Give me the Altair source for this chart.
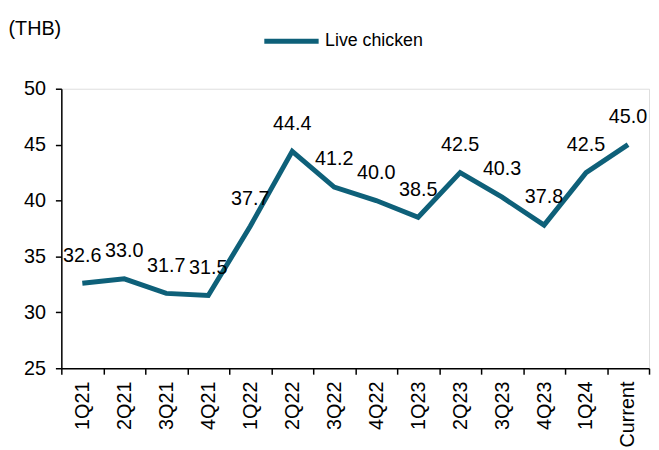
import altair as alt
import pandas as pd

categories = ["1Q21", "2Q21", "3Q21", "4Q21", "1Q22", "2Q22", "3Q22", "4Q22",
              "1Q23", "2Q23", "3Q23", "4Q23", "1Q24", "Current"]
values = [32.6, 33.0, 31.7, 31.5, 37.7, 44.4, 41.2, 40.0, 38.5, 42.5, 40.3, 37.8, 42.5, 45.0]
series_name = "Live chicken"
y_ticks = [25, 30, 35, 40, 45, 50]

df = pd.DataFrame({"quarter": categories, "price": values, "series": [series_name] * len(categories)})

LINE = "#0E6079"
FONT = "Liberation Sans"

x_enc = alt.X(
    "quarter:N",
    sort=categories,
    bandPosition=0.5,
    scale=alt.Scale(type="band", paddingInner=0, paddingOuter=0),
    axis=alt.Axis(
        title=None, labelAngle=-90, labelAlign="right", labelBaseline="middle",
        labelFontSize=20, labelFont=FONT, labelColor="black", labelPadding=7,
        tickBand="extent", tickSize=6, tickColor="black", domainColor="black",
        tickWidth=1.5, domainWidth=1.5, grid=False,
    ),
)
y_enc = alt.Y(
    "price:Q",
    scale=alt.Scale(domain=[25, 50], nice=False, zero=False),
    axis=alt.Axis(
        values=y_ticks, title="(THB)", titleAngle=0, titleAlign="left",
        titleBaseline="alphabetic", titleX=-54, titleY=-55, titleFontSize=20,
        titleFont=FONT, titleFontWeight="normal", titleColor="black",
        labelFontSize=20, labelFont=FONT, labelColor="black", labelPadding=10,
        tickSize=6, tickColor="black", domainColor="black", tickWidth=1.5,
        domainWidth=1.5, grid=False,
    ),
)

line = alt.Chart(df).mark_line(strokeWidth=5).encode(
    x=x_enc,
    y=y_enc,
    color=alt.Color(
        "series:N",
        scale=alt.Scale(domain=[series_name], range=[LINE]),
        legend=alt.Legend(
            title=None, orient="none", legendX=203, legendY=-78,
            symbolType="stroke", symbolSize=3025, symbolStrokeWidth=5,
            labelFontSize=18, labelFont=FONT, labelColor="black", labelOffset=4,
        ),
    ),
)

labels = alt.Chart(df).mark_text(dy=-22, baseline="alphabetic", fontSize=20, font=FONT, color="black").encode(
    x=alt.X("quarter:N", sort=categories, bandPosition=0.5),
    y="price:Q",
    text=alt.Text("price:Q", format=".1f"),
)

chart = (line + labels).properties(
    width=595, height=283,
    autosize=alt.AutoSizeParams(type="none"),
    padding={"left": 54, "top": 79, "right": 2, "bottom": 78},
).configure_view(stroke=None).configure(background="white")

chart.save("out.html", embed_options={"renderer": "svg", "actions": False})
